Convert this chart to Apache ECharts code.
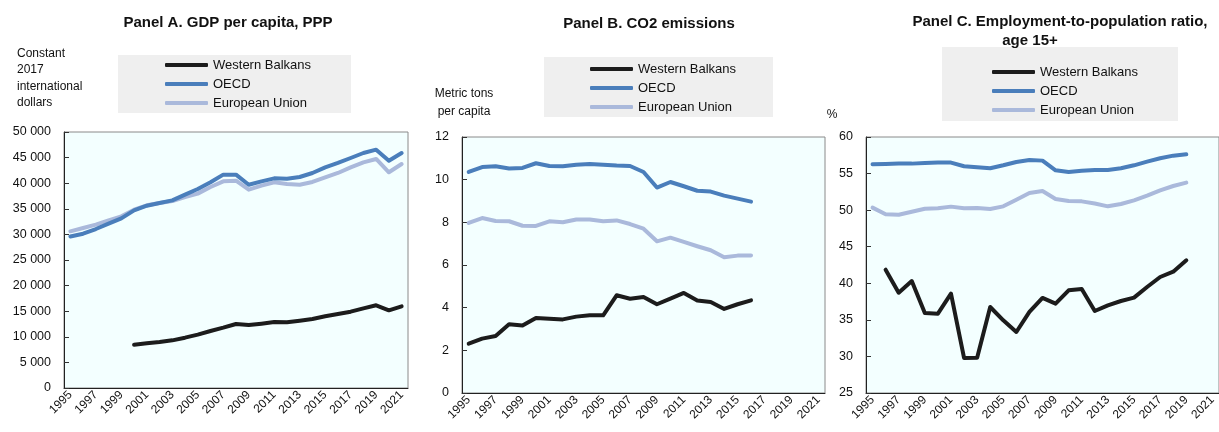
<!DOCTYPE html>
<html>
<head>
<meta charset="utf-8">
<script src="https://cdn.jsdelivr.net/npm/echarts@6/dist/echarts.min.js"></script>
<style>html,body{margin:0;padding:0;background:#fff;}#c{width:1219px;height:432px;}</style>
</head>
<body>
<div id="c"></div>
<script>
const years = ['1995','1996','1997','1998','1999','2000','2001','2002','2003','2004','2005','2006','2007','2008','2009','2010','2011','2012','2013','2014','2015','2016','2017','2018','2019','2020','2021'];
const seriesNames = ['Western Balkans', 'OECD', 'European Union'];

// Panel A: GDP per capita, PPP (constant 2017 international dollars)
const gdpWB = [null,null,null,null,null,8460,8720,8980,9310,9830,10420,11130,11780,12500,12300,12570,12890,12830,13150,13480,14000,14450,14910,15560,16150,15170,15950];
const gdpOECD = [29600,30140,31050,32100,33140,34700,35610,36130,36650,37760,38870,40170,41670,41670,39700,40360,40950,40880,41210,41990,43100,43950,44920,45900,46550,44400,45900];
const gdpEU = [30600,31250,31900,32750,33530,34830,35680,36130,36520,37300,37960,39260,40360,40490,38740,39520,40170,39840,39710,40240,41150,42000,43100,44080,44730,42130,43750];

// Panel B: CO2 emissions (metric tons per capita), 1995-2016
const co2WB = [2.31,2.55,2.67,3.22,3.16,3.52,3.48,3.45,3.58,3.64,3.64,4.58,4.42,4.50,4.16,4.42,4.69,4.34,4.27,3.94,4.16,4.34];
const co2OECD = [10.36,10.59,10.63,10.52,10.55,10.77,10.64,10.63,10.70,10.73,10.70,10.66,10.64,10.36,9.63,9.89,9.69,9.48,9.44,9.25,9.11,8.97];
const co2EU = [7.97,8.20,8.06,8.05,7.84,7.83,8.05,8.00,8.13,8.13,8.05,8.09,7.92,7.70,7.11,7.28,7.08,6.88,6.69,6.36,6.44,6.45];

// Panel C: Employment-to-population ratio, age 15+ (%), 1995-2019
const empWB = [null,41.86,38.72,40.31,35.94,35.85,38.58,29.79,29.83,36.76,34.94,33.34,36.08,38.00,37.22,39.04,39.22,36.21,36.99,37.58,38.04,39.49,40.86,41.59,43.14];
const empOECD = [56.27,56.32,56.36,56.36,56.45,56.50,56.50,56.00,55.86,55.72,56.13,56.59,56.86,56.77,55.45,55.22,55.40,55.50,55.50,55.72,56.13,56.63,57.09,57.45,57.63];
const empEU = [50.34,49.43,49.38,49.79,50.20,50.25,50.48,50.25,50.30,50.16,50.52,51.43,52.35,52.62,51.53,51.25,51.20,50.90,50.52,50.84,51.34,51.98,52.71,53.30,53.76];

const FONT = "'Liberation Sans',Arial,sans-serif";
const COLORS = {'Western Balkans':'#1c1c1c','OECD':'#4a7ebb','European Union':'#aab9db'};

const grids = [
  {left:64, top:132, width:344, height:256},
  {left:462, top:137, width:363, height:256},
  {left:866, top:137, width:362, height:256}
];
const yRanges = [
  {min:0, max:50000, interval:5000, fmt: v => String(v).replace(/\B(?=(\d{3})+(?!\d))/g, ' ')},
  {min:0, max:12, interval:2, fmt: v => String(v)},
  {min:25, max:60, interval:5, fmt: v => String(v)}
];
const panelData = [
  {'Western Balkans':gdpWB,'OECD':gdpOECD,'European Union':gdpEU},
  {'Western Balkans':co2WB,'OECD':co2OECD,'European Union':co2EU},
  {'Western Balkans':empWB,'OECD':empOECD,'European Union':empEU}
];

const option = {
  animation:false,
  backgroundColor:'#ffffff',
  textStyle:{fontFamily:FONT},
  grid: grids.map(g => Object.assign({show:true, backgroundColor:'#f3ffff', borderColor:'#8a8a8a', borderWidth:1, containLabel:false}, g)),
  xAxis: grids.map((g,i) => ({
    type:'category', gridIndex:i, data:years, boundaryGap:true,
    axisLine:{show:true, lineStyle:{color:'#222', width:1}},
    axisTick:{show:false},
    axisLabel:{interval:1, rotate:45, margin:5, fontSize:12, color:'#111', fontFamily:FONT},
    splitLine:{show:false}
  })),
  yAxis: yRanges.map((r,i) => ({
    type:'value', gridIndex:i, min:r.min, max:r.max, interval:r.interval,
    axisLine:{show:true, lineStyle:{color:'#222', width:1}},
    axisTick:{show:true, inside:true, length:5, lineStyle:{color:'#333'}},
    axisLabel:{margin:13, fontSize:12.5, color:'#111', fontFamily:FONT, formatter:r.fmt},
    splitLine:{show:false}
  })),
  legend: [
    {left:165, top:57},
    {left:590, top:61},
    {left:992, top:64}
  ].map(p => ({
    left:p.left, top:p.top, orient:'vertical', padding:0, itemGap:3,
    icon:'roundRect', itemWidth:43, itemHeight:4,
    data:seriesNames,
    textStyle:{fontSize:13, color:'#111', fontFamily:FONT, lineHeight:16},
    selectedMode:false
  })),
  series: [],
  graphic: [
    {type:'rect', shape:{x:118, y:55, width:233, height:58}, style:{fill:'#efefef'}, z:0},
    {type:'rect', shape:{x:544, y:57, width:229, height:60}, style:{fill:'#efefef'}, z:0},
    {type:'rect', shape:{x:942, y:47, width:236, height:74}, style:{fill:'#efefef'}, z:0},
    {type:'text', x:228, y:23, style:{text:'Panel A. GDP per capita, PPP', font:"bold 15px " + FONT, fill:'#111', textAlign:'center', textVerticalAlign:'middle'}},
    {type:'text', x:649, y:24, style:{text:'Panel B. CO2 emissions', font:"bold 15px " + FONT, fill:'#111', textAlign:'center', textVerticalAlign:'middle'}},
    {type:'text', x:1060, y:22, style:{text:'Panel C. Employment-to-population ratio,', font:"bold 15px " + FONT, fill:'#111', textAlign:'center', textVerticalAlign:'middle'}},
    {type:'text', x:1030, y:41, style:{text:'age 15+', font:"bold 15px " + FONT, fill:'#111', textAlign:'center', textVerticalAlign:'middle'}},
    {type:'text', x:17, y:45, style:{text:'Constant\n2017\ninternational\ndollars', font:"12px " + FONT, fill:'#111', textAlign:'left', lineHeight:16.6}},
    {type:'text', x:464, y:85, style:{text:'Metric tons\nper capita', font:"12px " + FONT, fill:'#111', textAlign:'center', lineHeight:17.5}},
    {type:'text', x:832, y:109, style:{text:'%', font:"12px " + FONT, fill:'#111', textAlign:'center'}}
  ]
};

const drawOrder = ['European Union','OECD','Western Balkans'];
panelData.forEach((pd, i) => {
  drawOrder.forEach(name => {
    option.series.push({
      type:'line', name:name, xAxisIndex:i, yAxisIndex:i, data:pd[name],
      showSymbol:false, symbol:'none', connectNulls:false,
      lineStyle:{color:COLORS[name], width:4, cap:'round', join:'round'},
      itemStyle:{color:COLORS[name]},
      z: 3
    });
  });
});

const chart = echarts.init(document.getElementById('c'), null, {renderer:'canvas'});
chart.setOption(option);
</script>
</body>
</html>
